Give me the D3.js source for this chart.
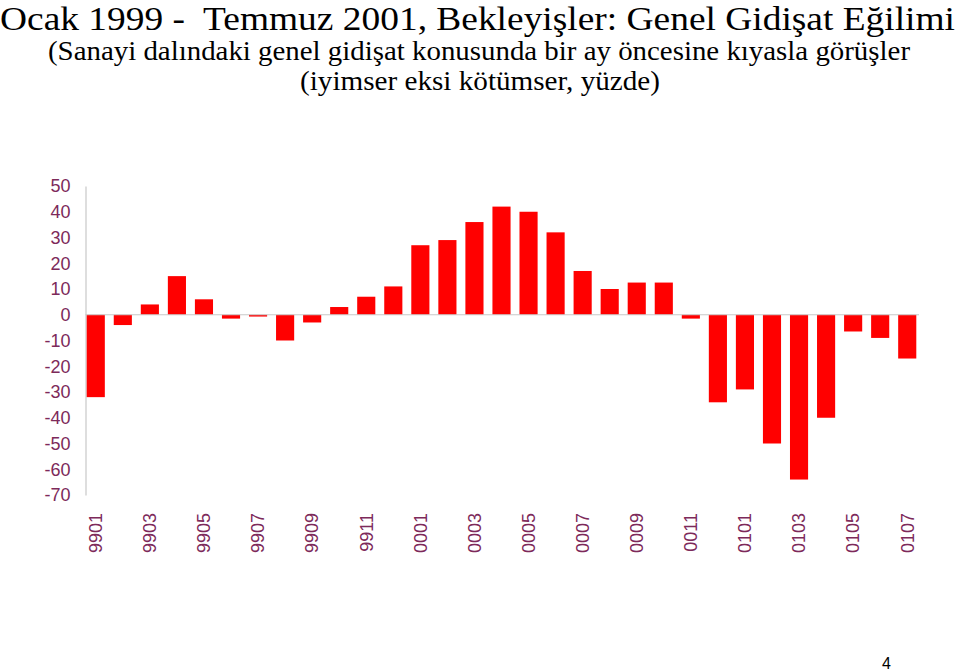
<!DOCTYPE html>
<html>
<head>
<meta charset="utf-8">
<script src="https://cdn.jsdelivr.net/npm/d3@7"></script>
<style>
html,body{margin:0;padding:0;background:#fff;}
svg{display:block;}
</style>
</head>
<body>
<svg id="chart" width="960" height="672"></svg>
<script>
const months = ["9901","9902","9903","9904","9905","9906","9907","9908","9909","9910","9911","9912",
  "0001","0002","0003","0004","0005","0006","0007","0008","0009","0010","0011","0012",
  "0101","0102","0103","0104","0105","0106","0107"];
const values = [-32,-4,4,15,6,-1.5,-0.7,-10,-3,3,7,11,
  27,29,36,42,40,32,17,10,12.5,12.5,-1.5,-34,
  -29,-50,-64,-40,-6.5,-9,-17];
const shownLabels = ["9901","9903","9905","9907","9909","9911","0001","0003","0005","0007","0009","0011","0101","0103","0105","0107"];
const yTicks = [50,40,30,20,10,0,-10,-20,-30,-40,-50,-60,-70];
const titleText = "Ocak 1999 -  Temmuz 2001, Bekleyişler: Genel Gidişat Eğilimi";
const subtitle1 = "(Sanayi dalındaki genel gidişat konusunda bir ay öncesine kıyasla görüşler";
const subtitle2 = "(iyimser eksi kötümser, yüzde)";
const pageNo = "4";

const svg = d3.select("#chart");
const labelColor = "#7d2a5a";
const sans = "'Liberation Sans',Arial,Helvetica,sans-serif";
const serif = "'Liberation Serif','Times New Roman',Times,serif";

const x = d3.scaleBand().domain(months).range([84, 919]).paddingInner(0.33).paddingOuter(0.1);
const y = d3.scaleLinear().domain([-70, 50]).range([495, 186]);

// titles
svg.append("text").attr("x", 0).attr("y", 29.5)
  .attr("font-family", serif).attr("font-size", 33)
  .attr("textLength", 955).attr("lengthAdjust", "spacingAndGlyphs")
  .style("white-space", "pre")
  .text(titleText);
svg.append("text").attr("x", 48).attr("y", 60)
  .attr("font-family", serif).attr("font-size", 27)
  .attr("textLength", 862).attr("lengthAdjust", "spacingAndGlyphs")
  .text(subtitle1);
svg.append("text").attr("x", 300).attr("y", 90)
  .attr("font-family", serif).attr("font-size", 27)
  .attr("textLength", 360).attr("lengthAdjust", "spacingAndGlyphs")
  .text(subtitle2);

// y axis
const yAxis = svg.append("g").attr("transform", "translate(85.5,0)")
  .call(d3.axisLeft(y).tickValues(yTicks).tickSize(0).tickPadding(15).tickFormat(d => String(d)));
yAxis.select(".domain").attr("stroke", "#c8c8c8").attr("stroke-width", 1.2);
yAxis.selectAll("text").attr("fill", labelColor)
  .attr("font-family", sans).attr("font-size", 18);

// bars
svg.append("g").selectAll("rect").data(values).join("rect")
  .attr("x", (d, i) => x(months[i]))
  .attr("width", x.bandwidth())
  .attr("y", d => y(Math.max(0, d)))
  .attr("height", d => Math.abs(y(d) - y(0)))
  .attr("fill", "#ff0000");

// zero line
svg.append("line").attr("x1", 85.5).attr("x2", 919)
  .attr("y1", y(0)).attr("y2", y(0))
  .attr("stroke", "#c8c8c8").attr("stroke-width", 1.2);

// x labels
const xAxis = svg.append("g").attr("transform", "translate(0,513)")
  .call(d3.axisBottom(x).tickValues(shownLabels).tickSize(0).tickPadding(0));
xAxis.select(".domain").remove();
xAxis.selectAll("text")
  .attr("fill", labelColor)
  .attr("font-family", sans).attr("font-size", 18)
  .attr("transform", "rotate(-90)")
  .attr("text-anchor", "end")
  .attr("dy", "0.35em").attr("x", 0).attr("y", 0);

// page number
svg.append("text").attr("x", 882).attr("y", 669)
  .attr("font-family", sans).attr("font-size", 16)
  .attr("fill", "#000").text(pageNo);
</script>
</body>
</html>
